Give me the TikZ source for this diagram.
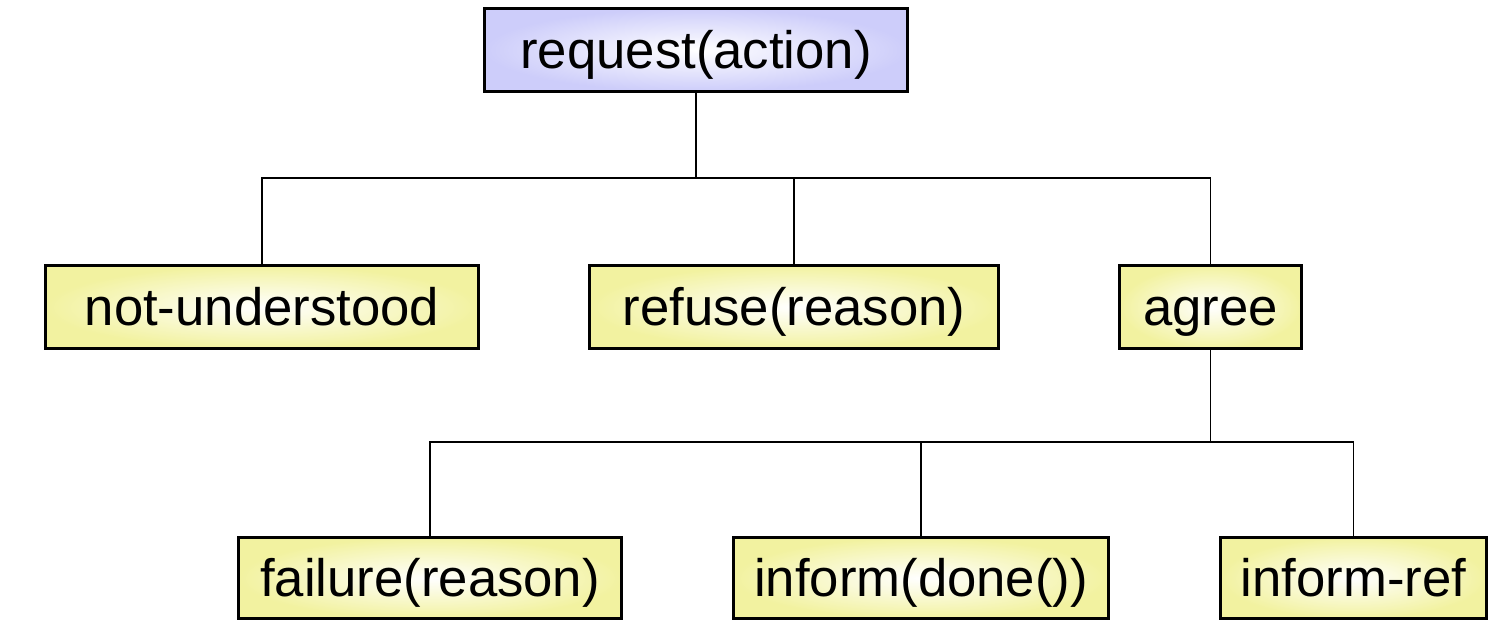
\documentclass[tikz,border=0pt]{standalone}
\usepackage{fontspec}
\setmainfont{Liberation Sans}
\definecolor{boxyel}{RGB}{242,242,160}
\definecolor{boxlav}{RGB}{205,205,250}
\tikzset{
  msg/.style={draw, line width=1.7pt, inner sep=0pt, minimum height=1.66cm,
    font=\fontsize{30}{36}\selectfont, text height=22pt, text depth=0.4pt,
    inner color=white, outer color=boxyel},
  top/.style={msg, outer color=boxlav},
  low/.style={msg, minimum height=1.62cm},
  link/.style={line width=0.85pt}
}
\begin{document}
\begin{tikzpicture}[x=0.02cm, y=-0.02cm]
\useasboundingbox (0,0) rectangle (1506,635);
\node[top, minimum width=8.46cm] (req) at (696,50) {request(action)};
\node[msg, minimum width=8.66cm] (nu) at (262,307) {not-understood};
\node[msg, minimum width=8.18cm] (ref) at (794,307) {refuse(reason)};
\node[msg, minimum width=3.64cm] (agr) at (1210.5,307) {agree};
\node[low, minimum width=7.66cm] (fail) at (430,578) {failure(reason)};
\node[low, minimum width=7.5cm] (done) at (921,578) {inform(done())};
\node[low, minimum width=5.32cm] (iref) at (1353.5,578) {inform-ref};
\coordinate (j0) at (696,178);
\coordinate (j1) at (1210.5,442);
\draw[link](req) -- (j0);
\draw[link](j0) -| (nu);
\draw[link](j0) -| (ref);
\draw[link](j0) -| (agr);
\draw[link](agr) -- (j1);
\draw[link](j1) -| (fail);
\draw[link](j1) -| (done);
\draw[link](j1) -| (iref);
\end{tikzpicture}
\end{document}
